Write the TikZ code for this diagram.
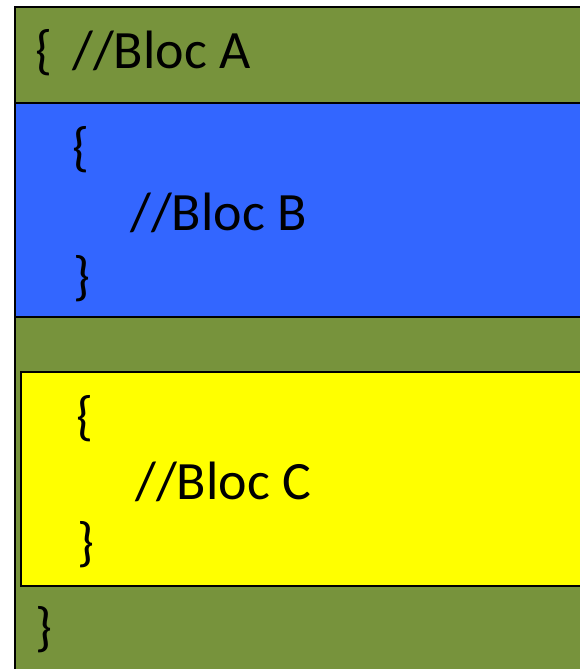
\documentclass[tikz,border=0pt]{standalone}
\usepackage{fontspec}
\setmainfont{Carlito}
\usepackage{tikz}
\usetikzlibrary{positioning}

\definecolor{blocA}{HTML}{77933C}
\definecolor{blocB}{HTML}{3366FF}
\definecolor{blocC}{HTML}{FFFF00}

\tikzset{
	bloc/.style={draw=black, line width=2pt},
	code/.style={anchor=base west, inner sep=0pt, font=\fontsize{54}{60}\selectfont}
}

\begin{document}
\begin{tikzpicture}[x=1pt,y=-1pt]
		\useasboundingbox (0,0) rectangle (580,669);
		\clip (0,0) rectangle (580,669);
		% les trois blocs
		\draw[bloc, fill=blocA] (14.5,7.5) rectangle (600,690);
		\draw[bloc, fill=blocB] (14.5,103) rectangle (600,317);
		\draw[bloc, fill=blocC] (20.5,371.5) rectangle (600,585.5);
		% le code
		\node(1) [code] at (35,68) {\{};
		\node(2) [code] at (72,68) {//Bloc A};
		\node(3) [code] at (72,165) {\{};
		\node(4) [code] at (130,230) {//Bloc B};
		\node(5) [code] at (73,294) {\}};
		\node(6) [code] at (76,434) {\{};
		\node(7) [code] at (135,499) {//Bloc C};
		\node(8) [code] at (77,560) {\}};
		\node(9) [code] at (35,645) {\}};
	\end{tikzpicture}
\end{document}
